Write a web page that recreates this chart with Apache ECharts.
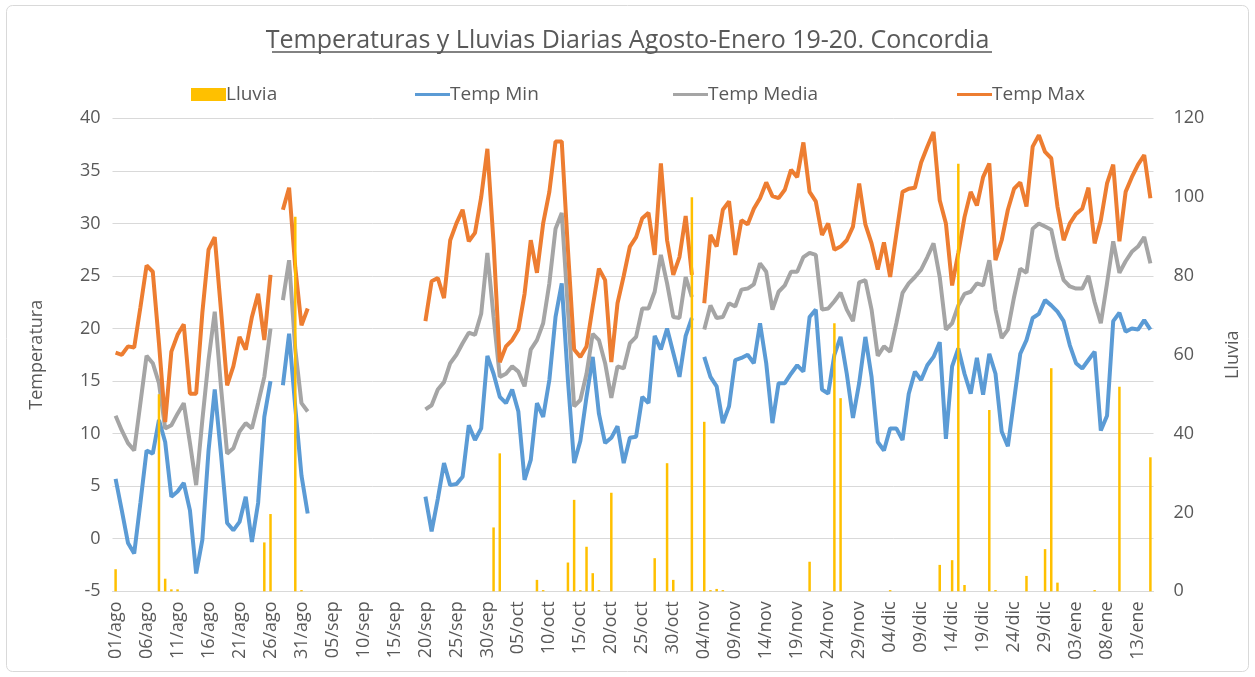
<!DOCTYPE html>
<html>
<head>
<meta charset="utf-8">
<title>Temperaturas y Lluvias Diarias</title>
<script src="https://cdn.jsdelivr.net/npm/echarts@6/dist/echarts.min.js"></script>
<style>
html, body { margin: 0; padding: 0; background: #fff; }
#main { width: 1255px; height: 677px; }
</style>
</head>
<body>
<div id="main"></div>
<script>
// meses del periodo y cantidad de dias de cada uno (ene hasta el 15)
var meses = [['ago', 31], ['sep', 30], ['oct', 31], ['nov', 30], ['dic', 31], ['ene', 15]];
var fechas = [];
meses.forEach(function (m) {
    for (var d = 1; d <= m[1]; d++) {
        fechas.push((d < 10 ? '0' + d : '' + d) + '/' + m[0]);
    }
});

// temperatura maxima (null = sin dato)
var tempMax = [
    17.7, 17.5, 18.3, 18.2, 22.0, 26.0, 25.4, 18.6, 11.1, 17.8,
    19.4, 20.4, 13.8, 13.8, 21.5, 27.5, 28.7, 21.8, 14.6, 16.4,
    19.2, 18.0, 21.1, 23.3, 18.9, 25.1, null, 31.3, 33.4, 25.8,
    20.3, 21.9, null, null, null, null, null, null, null, null,
    null, null, null, null, null, null, null, null, null, null,
    20.7, 24.5, 24.8, 22.9, 28.4, 30.0, 31.3, 28.3, 29.1, 32.5,
    37.1, 28.1, 16.8, 18.3, 18.9, 19.9, 23.3, 28.4, 25.3, 30.0,
    33.0, 37.8, 37.8, 27.5, 18.0, 17.3, 18.3, 22.1, 25.7, 24.6,
    16.8, 22.4, 25.0, 27.8, 28.7, 30.5, 31.0, 27.0, 35.7, 28.4,
    25.1, 26.8, 30.7, 25.1, null, 22.4, 28.9, 27.8, 31.3, 32.1,
    27.0, 30.3, 29.9, 31.4, 32.4, 33.9, 32.6, 32.4, 33.2, 35.1,
    34.4, 37.7, 33.0, 32.1, 28.9, 30.0, 27.5, 27.8, 28.4, 29.7,
    33.8, 29.9, 28.1, 25.6, 28.2, 24.9, 29.0, 33.0, 33.3, 33.4,
    35.8, 37.3, 38.7, 32.2, 30.0, 24.1, 27.2, 30.6, 33.0, 31.7,
    34.4, 35.7, 26.5, 28.4, 31.3, 33.3, 33.9, 31.6, 37.3, 38.4,
    36.8, 36.2, 31.6, 28.4, 30.0, 30.9, 31.4, 33.4, 28.1, 30.3,
    33.8, 35.6, 28.3, 33.0, 34.4, 35.6, 36.5, 32.4
];

// temperatura media
var tempMedia = [
    11.7, 10.3, 9.1, 8.4, 12.9, 17.4, 16.7, 14.8, 10.5, 10.8,
    11.9, 12.9, 9.1, 5.1, 11.3, 17.0, 21.6, 14.5, 8.1, 8.6,
    10.2, 11.0, 10.5, 12.9, 15.4, 20.0, null, 22.7, 26.5, 18.0,
    12.9, 12.1, null, null, null, null, null, null, null, null,
    null, null, null, null, null, null, null, null, null, null,
    12.3, 12.7, 14.2, 14.9, 16.7, 17.5, 18.6, 19.6, 19.4, 21.4,
    27.2, 21.1, 15.4, 15.7, 16.4, 15.9, 14.5, 18.0, 18.9, 20.5,
    24.3, 29.5, 31.0, 21.8, 12.6, 13.2, 15.7, 19.5, 18.9, 16.7,
    13.4, 16.4, 16.2, 18.6, 19.2, 21.9, 21.9, 23.5, 27.0, 24.3,
    21.1, 21.0, 24.9, 23.0, null, 19.9, 22.2, 21.0, 21.1, 22.4,
    22.1, 23.7, 23.8, 24.2, 26.2, 25.4, 21.8, 23.5, 24.1, 25.4,
    25.4, 26.8, 27.2, 27.0, 21.8, 21.9, 22.6, 23.4, 21.8, 20.7,
    24.4, 24.6, 21.8, 17.4, 18.3, 17.8, 20.5, 23.4, 24.3, 24.9,
    25.6, 26.8, 28.1, 24.9, 19.9, 20.5, 22.2, 23.3, 23.5, 24.3,
    24.1, 26.5, 21.8, 19.1, 19.9, 23.0, 25.7, 25.3, 29.5, 30.0,
    29.7, 29.4, 26.7, 24.6, 24.0, 23.8, 23.8, 25.0, 22.5, 20.5,
    24.3, 28.3, 25.3, 26.4, 27.3, 27.8, 28.7, 26.2
];

// temperatura minima
var tempMin = [
    5.7, 2.7, -0.4, -1.4, 3.4, 8.4, 8.1, 11.3, 9.2, 4.0,
    4.5, 5.3, 2.7, -3.3, -0.1, 8.4, 14.2, 8.1, 1.5, 0.8,
    1.6, 4.0, -0.3, 3.4, 11.6, 15.0, null, 14.6, 19.5, 12.5,
    6.0, 2.4, null, null, null, null, null, null, null, null,
    null, null, null, null, null, null, null, null, null, null,
    4.0, 0.7, 3.8, 7.2, 5.1, 5.2, 5.9, 10.8, 9.4, 10.5,
    17.4, 15.7, 13.5, 12.9, 14.2, 12.1, 5.6, 7.5, 12.9, 11.6,
    15.1, 21.1, 24.3, 15.1, 7.2, 9.3, 13.5, 17.3, 11.9, 9.1,
    9.6, 10.7, 7.2, 9.6, 9.7, 13.5, 12.9, 19.3, 18.0, 20.0,
    17.7, 15.4, 19.3, 21.0, null, 17.3, 15.4, 14.5, 11.0, 12.6,
    17.0, 17.2, 17.5, 16.7, 20.5, 16.7, 11.0, 14.8, 14.8, 15.7,
    16.5, 15.9, 21.1, 21.8, 14.2, 13.8, 17.5, 19.2, 15.7, 11.5,
    14.8, 19.2, 15.4, 9.2, 8.4, 10.5, 10.5, 9.4, 13.8, 15.9,
    15.1, 16.5, 17.3, 18.7, 9.5, 16.4, 18.1, 15.7, 13.8, 17.2,
    13.7, 17.6, 15.7, 10.2, 8.8, 13.2, 17.6, 18.9, 21.0, 21.4,
    22.7, 22.2, 21.6, 20.7, 18.4, 16.7, 16.2, 17.0, 17.8, 10.3,
    11.7, 20.7, 21.5, 19.7, 20.0, 19.9, 20.8, 19.9
];

// lluvia diaria (mm)
var lluvia = [
    5.6, 0, 0, 0, 0, 0, 0, 50, 3.2, 0.5,
    0.5, 0, 0, 0, 0, 0, 0, 0, 0, 0,
    0, 0, 0, 0, 12.4, 19.6, 0, 0, 0, 95,
    0.3, 0, 0, 0, 0, 0, 0, 0, 0, 0,
    0, 0, 0, 0, 0, 0, 0, 0, 0, 0,
    0, 0, 0, 0, 0, 0, 0, 0, 0, 0,
    0, 16.2, 35, 0, 0, 0, 0, 0, 2.9, 0.3,
    0, 0, 0, 7.3, 23.2, 0.3, 11.3, 4.6, 0.3, 0,
    25, 0, 0, 0, 0, 0, 0, 8.4, 0, 32.5,
    2.9, 0, 0, 100, 0, 43, 0.3, 0.6, 0.3, 0,
    0, 0, 0, 0, 0, 0, 0, 0, 0, 0,
    0, 0, 7.5, 0, 0, 0, 68, 49, 0, 0,
    0, 0, 0, 0, 0, 0.3, 0, 0, 0, 0,
    0, 0, 0, 6.7, 0, 7.9, 108.5, 1.6, 0, 0,
    0, 46, 0.3, 0, 0, 0, 0, 3.9, 0, 0,
    10.7, 56.6, 2.2, 0, 0, 0, 0, 0, 0.3, 0,
    0, 0, 51.9, 0, 0, 0, 0, 34
];

var gris = '#595959';
var fuente = 'Open Sans';

var myChart = echarts.init(document.getElementById('main'));

function leyenda(nombre, x, alto) {
    return {
        data: [nombre],
        left: x,
        top: 80,
        icon: 'rect',
        itemWidth: 35,
        itemHeight: alto,
        itemGap: 0,
        textStyle: { fontFamily: fuente, fontSize: 19, color: gris, padding: [0, 0, 0, -5] }
    };
}

var option = {
    animation: false,
    backgroundColor: '#fff',
    title: {
        text: 'Temperaturas y Lluvias Diarias Agosto-Enero 19-20. Concordia',
        left: 'center',
        top: 23,
        textStyle: { fontFamily: fuente, fontSize: 25, fontWeight: 'normal', color: gris }
    },
    graphic: [
        // subrayado del titulo
        { type: 'line', shape: { x1: 272, y1: 52, x2: 992, y2: 52 }, style: { stroke: gris, lineWidth: 1.5 } },
        // borde del area del grafico
        { type: 'rect', shape: { x: 6.5, y: 5.5, width: 1242, height: 666, r: 6 }, style: { fill: 'none', stroke: '#d9d9d9', lineWidth: 1 }, z: -1 }
    ],
    legend: [
        leyenda('Lluvia', 186, 13),
        leyenda('Temp Min', 410, 3),
        leyenda('Temp Media', 668, 3),
        leyenda('Temp Max', 952, 3)
    ],
    grid: { left: 112.5, right: 101.5, top: 118.3, bottom: 85.7 },
    xAxis: {
        type: 'category',
        data: fechas,
        boundaryGap: true,
        axisLine: { onZero: false, lineStyle: { color: '#d9d9d9', width: 1 } },
        axisTick: { show: false },
        axisLabel: { interval: 4, rotate: 90, margin: 10, color: gris, fontFamily: fuente, fontSize: 18 },
        splitLine: { show: false }
    },
    yAxis: [
        {
            type: 'value',
            min: -5,
            max: 40,
            interval: 5,
            name: 'Temperatura',
            nameLocation: 'middle',
            nameGap: 67,
            nameRotate: 90,
            nameTextStyle: { fontFamily: fuente, fontSize: 18, color: gris },
            axisLine: { show: false },
            axisTick: { show: false },
            axisLabel: { margin: 12, color: gris, fontFamily: fuente, fontSize: 18 },
            splitLine: { lineStyle: { color: '#d9d9d9', width: 1 } }
        },
        {
            type: 'value',
            min: 0,
            max: 120,
            interval: 20,
            position: 'right',
            name: 'Lluvia',
            nameLocation: 'middle',
            nameGap: 70,
            nameRotate: 90,
            nameTextStyle: { fontFamily: fuente, fontSize: 18, color: gris },
            axisLine: { show: false },
            axisTick: { show: false },
            axisLabel: { margin: 20, color: gris, fontFamily: fuente, fontSize: 18 },
            splitLine: { show: false }
        }
    ],
    series: [
        {
            name: 'Lluvia',
            type: 'bar',
            yAxisIndex: 1,
            data: lluvia,
            barWidth: 2.5,
            itemStyle: { color: '#FFC000' },
            z: 3
        },
        {
            name: 'Temp Min',
            type: 'line',
            data: tempMin,
            symbol: 'none',
            lineStyle: { width: 4, color: '#5B9BD5' },
            itemStyle: { color: '#5B9BD5' },
            z: 2
        },
        {
            name: 'Temp Media',
            type: 'line',
            data: tempMedia,
            symbol: 'none',
            lineStyle: { width: 4, color: '#A5A5A5' },
            itemStyle: { color: '#A5A5A5' },
            z: 2
        },
        {
            name: 'Temp Max',
            type: 'line',
            data: tempMax,
            symbol: 'none',
            lineStyle: { width: 4, color: '#ED7D31' },
            itemStyle: { color: '#ED7D31' },
            z: 2
        }
    ]
};

myChart.setOption(option);
</script>
</body>
</html>
